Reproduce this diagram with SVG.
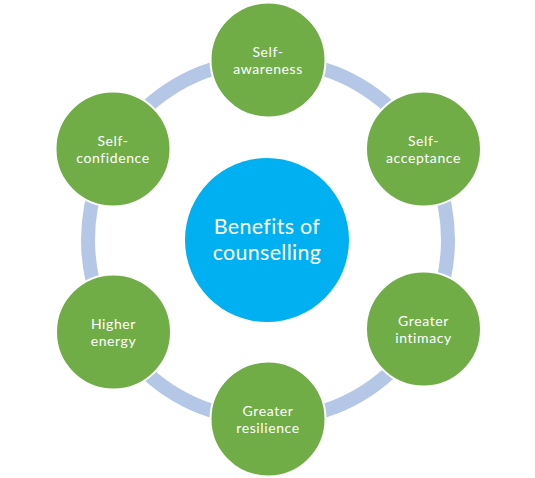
<svg xmlns="http://www.w3.org/2000/svg" width="535" height="478" viewBox="0 0 535 478">
<style>
.ring{fill:none;stroke:#B4C7E7;stroke-width:14}
.g{fill:#70AD47;stroke:#FFFFFF;stroke-width:2}
.c{fill:#00B0F0}
.t{font-family:Lato,"Open Sans",sans-serif;font-size:14px;letter-spacing:0.6px;fill:#FFFFFF;text-anchor:middle}
.tc{font-family:Lato,"Open Sans",sans-serif;font-size:21.5px;letter-spacing:0.3px;fill:#FFFFFF;text-anchor:middle}
</style>
<rect width="535" height="478" fill="#FFFFFF"/>
<g id="connectors">
<circle class="ring" cx="268" cy="240" r="180"/>
</g>
<g id="center">
<circle class="c" cx="267" cy="240" r="82"/>
<text class="tc" x="267" y="233.5">Benefits of</text>
<text class="tc" x="267" y="259.5">counselling</text>
</g>
<g id="self-awareness">
<circle class="g" cx="268" cy="60" r="57.5"/>
<text class="t" x="268" y="57">Self-</text>
<text class="t" x="268" y="74">awareness</text>
</g>
<g id="self-acceptance">
<circle class="g" cx="423.5" cy="149" r="57.5"/>
<text class="t" x="423.5" y="146">Self-</text>
<text class="t" x="423.5" y="163">acceptance</text>
</g>
<g id="greater-intimacy">
<circle class="g" cx="423.5" cy="329" r="57.5"/>
<text class="t" x="423.5" y="326">Greater</text>
<text class="t" x="423.5" y="343">intimacy</text>
</g>
<g id="greater-resilience">
<circle class="g" cx="268" cy="419" r="57.5"/>
<text class="t" x="268" y="416">Greater</text>
<text class="t" x="268" y="433">resilience</text>
</g>
<g id="higher-energy">
<circle class="g" cx="113.5" cy="332" r="57.5"/>
<text class="t" x="113.5" y="329">Higher</text>
<text class="t" x="113.5" y="346">energy</text>
</g>
<g id="self-confidence">
<circle class="g" cx="113" cy="149" r="57.5"/>
<text class="t" x="113" y="146">Self-</text>
<text class="t" x="113" y="163">confidence</text>
</g>
</svg>
